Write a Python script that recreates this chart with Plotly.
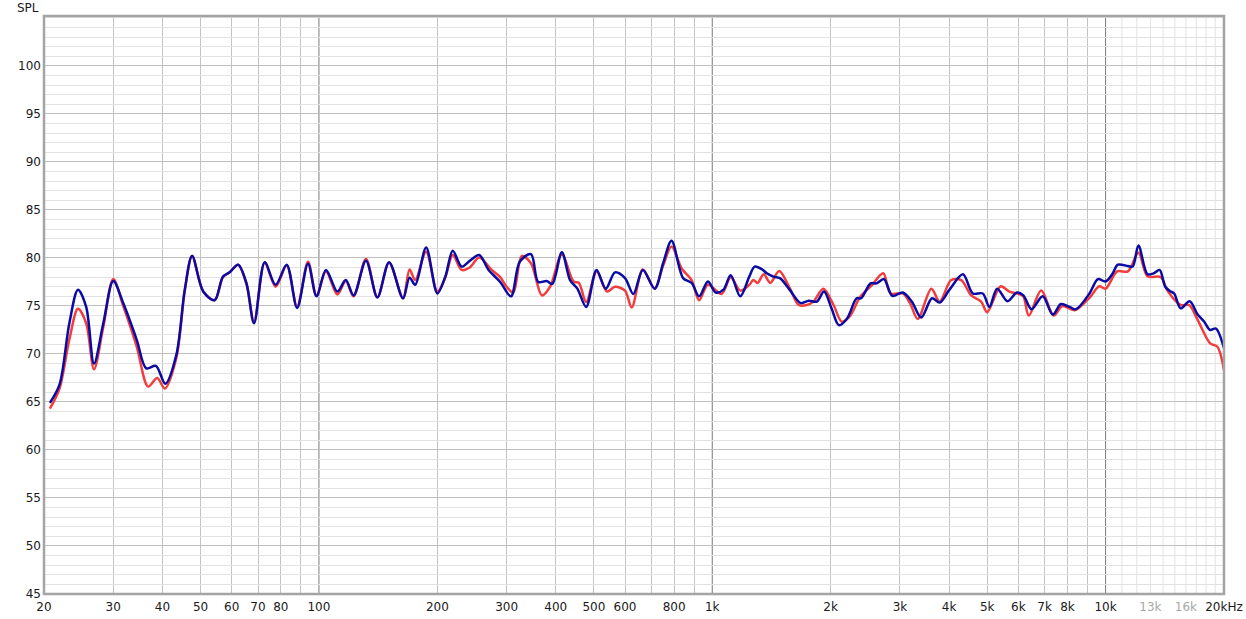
import plotly.graph_objects as go

# ---------------- data ----------------
blue_freq = [20.7, 21.9, 23.2, 24.4, 25.6, 26.8, 28.3, 30.0, 31.8, 34.4, 36.4, 38.5, 40.7, 43.4,
             45.6, 47.6, 50.8, 54.3, 57.0, 59.3, 62.3, 65.4, 68.4, 72.8, 77.6, 82.8, 88.0, 93.8,
             98.6, 104.2, 111.4, 117, 122.5, 131.7, 140.8, 150.8, 163.6, 170, 175.7, 187.3, 200,
             209.6, 218.9, 230.6, 241.8, 255.6, 270, 289, 307.8, 324, 346, 361, 379, 392, 414.6,
             435, 454, 478, 508, 536, 566, 600, 630, 666, 714, 750, 788, 843, 886, 926, 975, 1020,
             1068, 1114, 1178, 1242, 1282, 1340, 1376, 1430, 1486, 1572, 1678, 1758, 1844, 1924,
             2010, 2098, 2202, 2328, 2390, 2526, 2618, 2732, 2870, 3050, 3218, 3398, 3620, 3786,
             4010, 4338, 4598, 4872, 5064, 5300, 5632, 5950, 6180, 6480, 6920, 7340, 7700, 8100,
             8400, 9100, 9560, 10000, 10430, 10740, 11400, 11720, 12120, 12780, 13240, 13720,
             14180, 14640, 14940, 15520, 16360, 17140, 17780, 18440, 19080, 20000]
blue_spl = [64.9, 66.8, 73.2, 76.7, 74.9, 69.0, 73.2, 77.6, 75.3, 71.5, 68.5, 68.75, 66.9, 69.9,
            76.7, 80.2, 76.5, 75.6, 78.05, 78.5, 79.3, 77.4, 73.2, 79.55, 77.2, 79.3, 74.8, 79.4,
            76.0, 78.75, 76.5, 77.7, 76.1, 79.7, 75.9, 79.55, 75.8, 77.95, 77.2, 81.1, 76.3,
            78.05, 80.75, 79.1, 79.7, 80.3, 78.75, 77.5, 76.0, 79.6, 80.4, 77.5, 77.6, 77.3, 80.6,
            77.7, 76.8, 74.9, 78.75, 76.8, 78.5, 77.9, 76.25, 78.75, 76.8, 79.45, 81.8, 77.9, 77.4,
            76.0, 77.55, 76.4, 76.7, 78.2, 76.0, 78.05, 79.1, 78.8, 78.4, 78.05, 77.9, 76.7, 75.3,
            75.55, 75.45, 76.5, 74.75, 73.0, 73.7, 75.8, 75.8, 77.35, 77.35, 77.8, 76.05, 76.4,
            75.45, 73.8, 75.8, 75.35, 76.7, 78.3, 76.3, 76.3, 74.9, 76.8, 75.5, 76.4, 76.1, 74.65,
            76.0, 74.1, 75.2, 74.9, 74.65, 76.3, 77.8, 77.55, 78.4, 79.3, 79.15, 79.1, 81.3, 78.3,
            78.4, 78.75, 77.0, 76.5, 76.3, 74.75, 75.5, 74.1, 73.4, 72.5, 72.65, 70.6]

red_freq = [20.7, 21.9, 23.2, 24.4, 25.6, 26.8, 28.3, 30.0, 31.8, 34.4, 36.8, 38.8, 40.6, 43.4,
            45.6, 47.6, 50.8, 54.3, 57.0, 59.3, 62.3, 65.4, 68.4, 72.8, 77.6, 82.8, 88.0, 93.8,
            98.6, 104.2, 111.4, 117, 122.5, 131.7, 140.8, 150.8, 163.6, 170, 175.7, 187.3, 200,
            209.6, 218.9, 230.6, 241.8, 255.6, 275, 289, 300, 312, 328, 346, 369, 387, 414.6, 444,
            458, 478, 508, 540, 566, 600, 624, 666, 714, 750, 788, 836, 886, 926, 975, 1056, 1114,
            1178, 1242, 1272, 1304, 1352, 1404, 1480, 1572, 1660, 1740, 1808, 1916, 2034, 2136,
            2244, 2378, 2544, 2720, 2840, 3050, 3186, 3330, 3606, 3786, 4050, 4294, 4552, 4826,
            5000, 5410, 5690, 6020, 6180, 6380, 6860, 7380, 7770, 8340, 9100, 9640, 10000, 10700,
            11400, 12120, 12780, 13820, 14360, 15520, 16300, 17140, 18440, 19240, 20000]
red_spl = [64.3, 66.4, 71.5, 74.7, 73.2, 68.4, 72.8, 77.8, 75.0, 70.8, 66.6, 67.5, 66.4, 69.6,
           76.6, 80.2, 76.5, 75.6, 78.0, 78.5, 79.3, 77.3, 73.3, 79.5, 77.0, 79.2, 74.9, 79.6,
           76.1, 78.6, 76.2, 77.6, 76.0, 79.9, 75.9, 79.5, 75.8, 78.8, 77.7, 80.65, 76.5, 78.0,
           80.3, 78.75, 79.0, 80.05, 78.75, 78.0, 77.0, 76.4, 80.2, 79.45, 76.1, 77.0, 80.35,
           77.55, 77.4, 75.4, 78.6, 76.5, 77.0, 76.6, 74.85, 78.8, 76.8, 79.2, 81.2, 78.9, 77.7,
           75.6, 77.2, 76.25, 78.0, 76.6, 77.2, 77.7, 77.4, 78.3, 77.4, 78.65, 76.9, 75.1, 75.1,
           75.45, 76.8, 75.1, 73.35, 74.0, 75.95, 77.15, 78.4, 76.3, 76.3, 75.25, 73.65, 76.8,
           75.45, 77.7, 77.7, 76.1, 75.45, 74.35, 77.05, 76.5, 76.25, 76.0, 74.0, 76.6, 74.0,
           75.0, 74.55, 75.85, 77.05, 76.8, 78.6, 78.6, 80.55, 78.1, 78.0, 76.6, 75.1, 75.1,
           73.55, 71.1, 70.75, 68.3]

x_tick_vals = [20, 30, 40, 50, 60, 70, 80, 100, 200, 300, 400, 500, 600, 800, 1000,
               2000, 3000, 4000, 5000, 6000, 7000, 8000, 10000, 13000, 16000, 20000]
x_tick_text = ["20", "30", "40", "50", "60", "70", "80", "100", "200", "300", "400", "500",
               "600", "800", "1k", "2k", "3k", "4k", "5k", "6k", "7k", "8k", "10k",
               "<span style='color:#a8a8a8'>13k</span>",
               "<span style='color:#a8a8a8'>16k</span>", "20kHz"]
x_grid_mid = [30, 40, 50, 60, 70, 80, 90, 200, 300, 400, 500, 600, 700, 800, 900,
              2000, 3000, 4000, 5000, 6000, 7000, 8000, 9000]
x_grid_decade = [100, 1000, 10000]
x_grid_light = [11000, 12000, 13000, 14000, 15000, 16000, 17000, 18000, 19000]
y_tick_vals = [45, 50, 55, 60, 65, 70, 75, 80, 85, 90, 95, 100]

# ---------------- figure ----------------
FONT = "DejaVu Sans"
fig = go.Figure()

fig.add_trace(go.Scatter(x=red_freq, y=red_spl, mode="lines",
                         line=dict(color="#f23d3d", width=2.5, shape="spline", smoothing=0.9),
                         hoverinfo="skip", showlegend=False))
fig.add_trace(go.Scatter(x=blue_freq, y=blue_spl, mode="lines",
                         line=dict(color="#0a0aa5", width=2.5, shape="spline", smoothing=0.9),
                         hoverinfo="skip", showlegend=False))

shapes = []
for f in x_grid_light:
    shapes.append(dict(type="line", xref="x", yref="paper", x0=f, x1=f, y0=0, y1=1,
                       line=dict(color="#e2e2e2", width=1), layer="below"))
for f in x_grid_decade:
    shapes.append(dict(type="line", xref="x", yref="paper", x0=f, x1=f, y0=0, y1=1,
                       line=dict(color="#7a7a7a", width=1), layer="below"))
shapes.append(dict(type="rect", xref="paper", yref="paper", x0=0, x1=1, y0=0, y1=1,
                   line=dict(color="#a4a4a4", width=2.5), layer="above"))

fig.update_layout(
    width=1246, height=619,
    margin=dict(l=44, r=22, t=16, b=25, autoexpand=False),
    paper_bgcolor="white", plot_bgcolor="white",
    font=dict(family=FONT, size=12, color="#1a1a1a"),
    shapes=shapes,
    annotations=[dict(text="SPL", xref="paper", yref="paper", x=-0.0136, y=1.0138,
                      xanchor="center", yanchor="middle", showarrow=False,
                      font=dict(family=FONT, size=12, color="#1a1a1a"))],
)

fig.update_xaxes(
    type="log", range=[1.30103, 4.30103], automargin=False,
    tickmode="array", tickvals=x_tick_vals, ticktext=x_tick_text,
    showgrid=False, zeroline=False, showline=False, ticks="", ticklabelstandoff=4,
    minor=dict(tickmode="array", tickvals=x_grid_mid, showgrid=True,
               gridcolor="#c4c4c4", gridwidth=1, ticks=""),
)
fig.update_yaxes(
    range=[45, 105.2], tickmode="array", tickvals=y_tick_vals, automargin=False,
    showgrid=True, gridcolor="#c0c0c0", gridwidth=1, zeroline=False, showline=False, ticks="",
    ticklabelstandoff=2,
    minor=dict(dtick=1, tick0=45, showgrid=True, gridcolor="#e2e2e2", gridwidth=1, ticks=""),
)

fig.write_html("out.html", config={"displayModeBar": False},
               post_script="document.body.style.margin='0';document.body.style.overflow='hidden';")
